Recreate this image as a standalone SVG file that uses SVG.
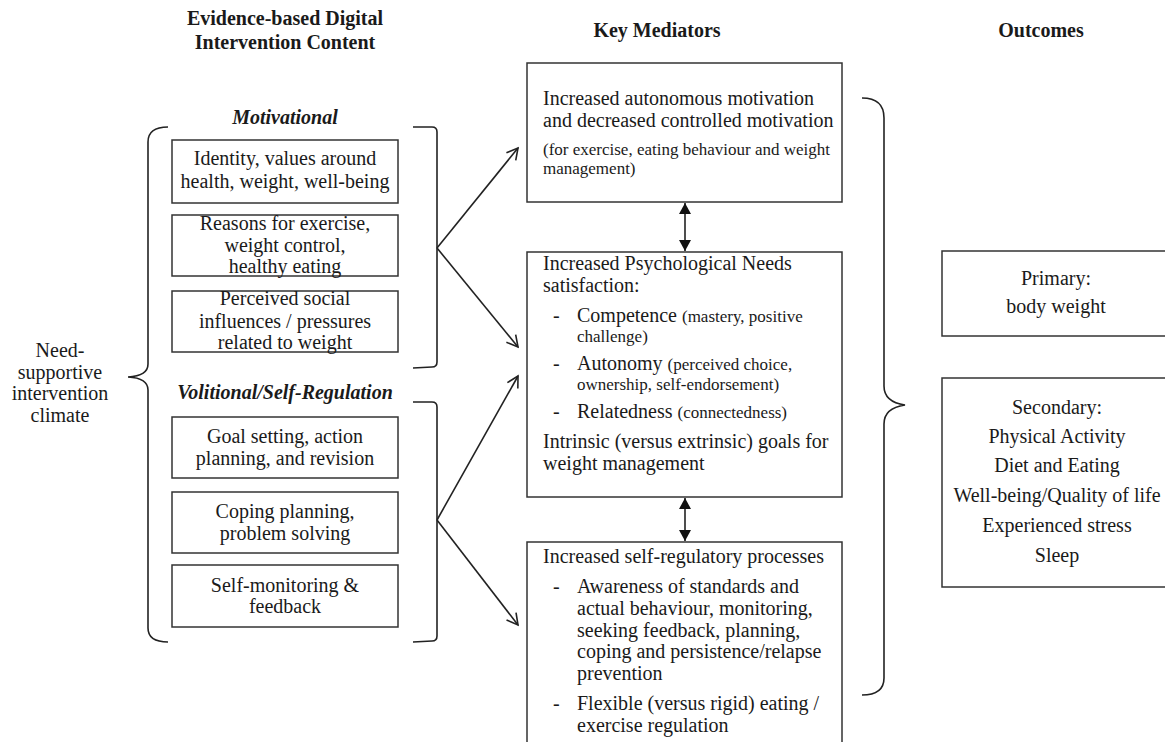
<svg xmlns="http://www.w3.org/2000/svg" width="1165" height="742" viewBox="0 0 1165 742">
<style>
text{font-family:"Liberation Serif","Times New Roman",serif;fill:#1a1a1a;font-size:20px}
.h{font-weight:bold}
.hi{font-weight:bold;font-style:italic}
.c{text-anchor:middle}
.s{font-size:17px}
.box{fill:#fff;stroke:#333;stroke-width:1.5}
.ln{fill:none;stroke:#222;stroke-width:1.6}
</style>
<defs>
<marker id="open" markerWidth="14" markerHeight="14" refX="12" refY="7" orient="auto" markerUnits="userSpaceOnUse">
<path d="M1,1 L12,7 L1,13" fill="none" stroke="#222" stroke-width="1.6"/>
</marker>
<marker id="fill" markerWidth="12" markerHeight="14" refX="11" refY="6" orient="auto-start-reverse" markerUnits="userSpaceOnUse">
<path d="M0,0 L11,6 L0,12 Z" fill="#111"/>
</marker>
</defs>

<g id="headings">
<text class="h c" x="285" y="25">Evidence-based Digital</text>
<text class="h c" x="285" y="49">Intervention Content</text>
<text class="h c" x="657" y="37">Key Mediators</text>
<text class="h c" x="1041" y="37">Outcomes</text>
<text class="hi c" x="285" y="124">Motivational</text>
<text class="hi c" x="285" y="399">Volitional/Self-Regulation</text>
</g>

<g id="climate">
<text class="c" x="60" y="357">Need-</text>
<text class="c" x="60" y="379">supportive</text>
<text class="c" x="60" y="400">intervention</text>
<text class="c" x="60" y="422">climate</text>
</g>

<g id="brackets">
<path class="ln" d="M168,127 Q148,127 148,142 L148,364 Q148,376 128,377 Q148,378 148,390 L148,628 Q148,642 168,642"/>
<path class="ln" d="M413,127 L432,127 Q437,127 437,132 L437,362 Q437,367 432,367 L413,368"/>
<path class="ln" d="M413,402 L432,402 Q437,402 437,407 L437,636 Q437,641 432,641 L413,642"/>
<path class="ln" d="M862,98 Q884,98 884,118 L884,386 Q884,402 905,405 Q884,408 884,424 L884,678 Q884,695 862,695"/>
</g>

<g id="m1">
<rect class="box" x="172" y="140" width="226" height="63"/>
<text class="c" x="285" y="165">Identity, values around</text>
<text class="c" x="285" y="188">health, weight, well-being</text>
</g>
<g id="m2">
<rect class="box" x="172" y="215" width="226" height="61"/>
<text class="c" x="285" y="230">Reasons for exercise,</text>
<text class="c" x="285" y="252">weight control,</text>
<text class="c" x="285" y="273">healthy eating</text>
</g>
<g id="m3">
<rect class="box" x="172" y="291" width="226" height="61"/>
<text class="c" x="285" y="305">Perceived social</text>
<text class="c" x="285" y="328">influences / pressures</text>
<text class="c" x="285" y="349">related to weight</text>
</g>
<g id="v1">
<rect class="box" x="172" y="417" width="226" height="61"/>
<text class="c" x="285" y="443">Goal setting, action</text>
<text class="c" x="285" y="465">planning, and revision</text>
</g>
<g id="v2">
<rect class="box" x="172" y="492" width="226" height="61"/>
<text class="c" x="285" y="518">Coping planning,</text>
<text class="c" x="285" y="540">problem solving</text>
</g>
<g id="v3">
<rect class="box" x="172" y="565" width="226" height="62"/>
<text class="c" x="285" y="592">Self-monitoring &amp;</text>
<text class="c" x="285" y="613">feedback</text>
</g>

<g id="medA">
<rect class="box" x="527" y="63" width="315" height="139"/>
<text x="543" y="105">Increased autonomous motivation</text>
<text x="543" y="127">and decreased controlled motivation</text>
<text class="s" x="543" y="155">(for exercise, eating behaviour and weight</text>
<text class="s" x="543" y="174">management)</text>
</g>
<g id="medB">
<rect class="box" x="527" y="252" width="315" height="245"/>
<text x="543" y="270">Increased Psychological Needs</text>
<text x="543" y="292">satisfaction:</text>
<text x="553" y="322">-</text>
<text x="577" y="322">Competence <tspan class="s">(mastery, positive</tspan></text>
<text class="s" x="577" y="342">challenge)</text>
<text x="553" y="370">-</text>
<text x="577" y="370">Autonomy <tspan class="s">(perceived choice,</tspan></text>
<text class="s" x="577" y="390">ownership, self-endorsement)</text>
<text x="553" y="418">-</text>
<text x="577" y="418">Relatedness <tspan class="s">(connectedness)</tspan></text>
<text x="543" y="448">Intrinsic (versus extrinsic) goals for</text>
<text x="543" y="470">weight management</text>
</g>
<g id="medC">
<rect class="box" x="527" y="542" width="315" height="220"/>
<text x="543" y="563">Increased self-regulatory processes</text>
<text x="553" y="593">-</text>
<text x="577" y="593">Awareness of standards and</text>
<text x="577" y="615">actual behaviour, monitoring,</text>
<text x="577" y="637">seeking feedback, planning,</text>
<text x="577" y="658">coping and persistence/relapse</text>
<text x="577" y="680">prevention</text>
<text x="553" y="710">-</text>
<text x="577" y="710">Flexible (versus rigid) eating /</text>
<text x="577" y="732">exercise regulation</text>
</g>

<g id="primary">
<rect class="box" x="942" y="251" width="240" height="85"/>
<text class="c" x="1056" y="285">Primary:</text>
<text class="c" x="1056" y="313">body weight</text>
</g>
<g id="secondary">
<rect class="box" x="942" y="378" width="240" height="209"/>
<text class="c" x="1057" y="414">Secondary:</text>
<text class="c" x="1057" y="443">Physical Activity</text>
<text class="c" x="1057" y="472">Diet and Eating</text>
<text class="c" x="1057" y="502">Well-being/Quality of life</text>
<text class="c" x="1057" y="532">Experienced stress</text>
<text class="c" x="1057" y="562">Sleep</text>
</g>

<g id="connectors">
<line class="ln" x1="437" y1="248" x2="518" y2="148" marker-end="url(#open)"/>
<line class="ln" x1="437" y1="248" x2="518" y2="347" marker-end="url(#open)"/>
<line class="ln" x1="437" y1="520" x2="518" y2="376" marker-end="url(#open)"/>
<line class="ln" x1="437" y1="520" x2="518" y2="625" marker-end="url(#open)"/>
<line class="ln" x1="685" y1="203" x2="685" y2="251" marker-start="url(#fill)" marker-end="url(#fill)"/>
<line class="ln" x1="685" y1="498" x2="685" y2="541" marker-start="url(#fill)" marker-end="url(#fill)"/>
</g>
</svg>
